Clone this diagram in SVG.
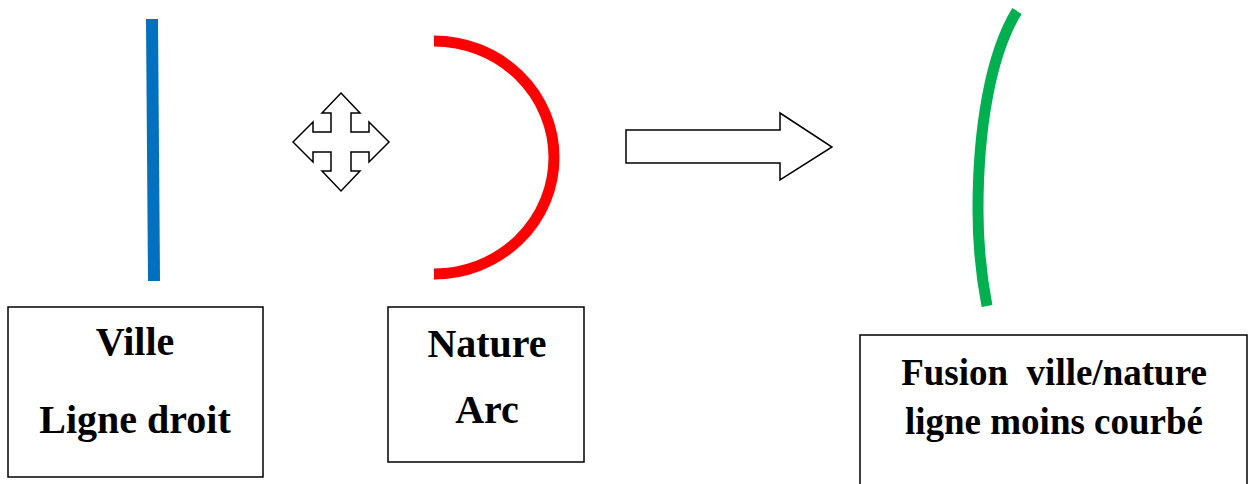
<svg xmlns="http://www.w3.org/2000/svg" width="1251" height="484" viewBox="0 0 1251 484">
<style>
.box{fill:#fff;stroke:#000;stroke-width:1.5}
.lbl{font-family:"Liberation Serif","Times New Roman",serif;font-weight:bold;fill:#000;text-anchor:middle;white-space:pre}
.sym{fill:#fff;stroke:#000;stroke-width:1.5;stroke-linejoin:miter}
</style>
<rect width="1251" height="484" fill="#fff"/>
<g id="ville-line"><line x1="152" y1="19" x2="154" y2="281" stroke="#0070C0" stroke-width="12"/></g>
<g id="nature-arc"><path d="M434,41 A120,116.5 0 0 1 434,274" fill="none" stroke="#FF0000" stroke-width="11"/></g>
<g id="fusion-curve"><path d="M1017,11 C990,55 978,130 978,210 C978,250 982,280 987,306" fill="none" stroke="#00B050" stroke-width="11"/></g>
<g id="move-symbol"><polygon class="sym" points="341,93 360,113 351,113 351,132 369,132 369,122 389,142 369,162 369,152 351,152 351,171 360,171 341,191 322,171 331,171 331,152 313,152 313,162 293,142 313,122 313,132 331,132 331,113 322,113"/></g>
<g id="connectors"><polygon class="sym" points="626,130 780,130 780,113 832,147 780,180 780,163 626,163"/></g>
<g id="ville">
<rect class="box" x="8" y="307" width="255" height="170"/>
<text class="lbl" x="135" y="355" font-size="40">Ville</text>
<text class="lbl" x="135" y="433" font-size="40">Ligne droit</text>
</g>
<g id="nature">
<rect class="box" x="388" y="307" width="196" height="155"/>
<text class="lbl" x="487" y="357" font-size="40">Nature</text>
<text class="lbl" x="487" y="423" font-size="40">Arc</text>
</g>
<g id="fusion">
<rect class="box" x="860" y="335" width="387" height="160"/>
<text class="lbl" x="1054" y="385" font-size="37">Fusion  ville/nature</text>
<text class="lbl" x="1054" y="434" font-size="37">ligne moins courbé</text>
</g>
</svg>
